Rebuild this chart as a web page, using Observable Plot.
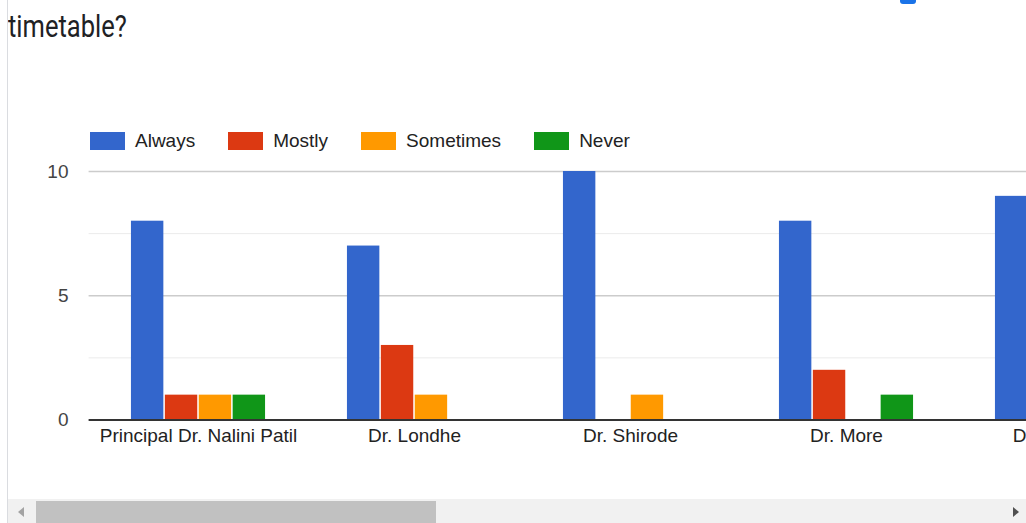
<!DOCTYPE html>
<html>
<head>
<meta charset="utf-8">
<script src="https://cdn.jsdelivr.net/npm/d3@7"></script>
<script src="https://cdn.jsdelivr.net/npm/@observablehq/plot@0.6"></script>
<style>
  html, body { margin: 0; padding: 0; background: #fff; width: 1026px; height: 523px; overflow: hidden; }
  #page { position: relative; width: 1026px; height: 523px; overflow: hidden; }
  #chart { position: absolute; left: 0; top: 0; width: 1026px; height: 498px; overflow: hidden; }
  #chart svg { max-width: none !important; background: transparent !important; }
  #chart svg [aria-label^="x-axis"] { color: #222; }
  #chart svg [aria-label^="y-axis"] { color: #444; }
  #border { position: absolute; left: 7px; top: 0; width: 1px; height: 523px; background: #dadce0; }
  #title { position: absolute; left: 8px; top: 7px; font-family: Roboto, Arial, sans-serif; font-size: 25.5px; line-height: 32px; color: #202124; white-space: nowrap; transform: scaleY(1.2); transform-origin: 0 0; }
  #icon { position: absolute; left: 900px; top: -12px; width: 16px; height: 16px; background: #1a73e8; border-radius: 3px; }
  #legend { position: absolute; left: 90px; top: 130px; display: flex; align-items: center; font-family: Arial, "Liberation Sans", sans-serif; font-size: 19px; color: #222; }
  .item { display: flex; align-items: center; margin-right: 33px; }
  .sw { width: 35px; height: 18px; margin-right: 10px; }
  #track { position: absolute; left: 8px; top: 499px; width: 1018px; height: 24px; background: #f1f1f1; }
  #thumb { position: absolute; left: 36px; top: 501px; width: 400px; height: 22px; background: #c1c1c1; }
  .arrow { position: absolute; width: 0; height: 0; border-top: 5px solid transparent; border-bottom: 5px solid transparent; }
  #aleft { left: 18px; top: 507px; border-right: 6px solid #a3a3a3; }
  #aright { left: 1013px; top: 507px; border-left: 6px solid #505050; }
</style>
</head>
<body>
<div id="page">
  <div id="chart"></div>
  <div id="border"></div>
  <div id="icon"></div>
  <div id="title">timetable?</div>
  <div id="legend"></div>
  <div id="track"></div>
  <div id="thumb"></div>
  <div class="arrow" id="aleft"></div>
  <div class="arrow" id="aright"></div>
</div>
<script>
// ---- data ----
const teachers = ["Principal Dr. Nalini Patil", "Dr. Londhe", "Dr. Shirode", "Dr. More", "Dr. (hidden)"];
const responses = ["Always", "Mostly", "Sometimes", "Never"];
const always    = [8, 7, 10, 8, 9];
const mostly    = [1, 3, 0, 2, null];
const sometimes = [1, 1, 1, 0, null];
const never     = [1, 0, 0, 1, null];
const colors = ["#3366cc", "#dc3912", "#ff9900", "#109618"];
const yTickValues = [0, 5, 10];
const yMajorGrid = [5, 10];
const yMinorGrid = [2.5, 7.5];

const series = [always, mostly, sometimes, never];
const rows = [];
teachers.forEach((t, ti) => {
  responses.forEach((r, ri) => {
    const v = series[ri][ti];
    if (v != null && v > 0) rows.push({teacher: t, response: r, value: v});
  });
});

// ---- layout ----
const marginLeft = 88.6;
const step = 216.6;
const width = 1250;
const marginRight = width - marginLeft - step * teachers.length;
const barStep = 33.9;
const barWidth = 33;
const inset = (step - barWidth) / 2;

const chart = Plot.plot({
  width,
  height: 498,
  marginLeft,
  marginRight,
  marginTop: 171,
  marginBottom: 78.5,
  style: {fontFamily: "Arial, 'Liberation Sans', sans-serif", fontSize: "19px", background: "transparent", maxWidth: "none", overflow: "visible"},
  x: {domain: teachers, padding: 0, tickSize: 0, tickPadding: 8, label: null},
  y: {domain: [0, 10], ticks: yTickValues, tickSize: 0, tickPadding: 20.6, label: null},
  marks: [
    Plot.ruleY(yMinorGrid, {stroke: "#ebebeb", strokeWidth: 1}),
    Plot.ruleY(yMajorGrid, {stroke: "#cccccc", strokeWidth: 1.5}),
    ...responses.map((r, i) => Plot.barY(rows.filter(d => d.response === r), {
      x: "teacher", y: "value", fill: colors[i],
      dx: (i - 1.5) * barStep, insetLeft: inset, insetRight: inset
    })),
    Plot.ruleY([0], {stroke: "#333333", strokeWidth: 2})
  ]
});
document.getElementById("chart").appendChild(chart);

// ---- legend ----
const legend = document.getElementById("legend");
responses.forEach((r, i) => {
  const item = document.createElement("div");
  item.className = "item";
  const sw = document.createElement("div");
  sw.className = "sw";
  sw.style.background = colors[i];
  const label = document.createElement("span");
  label.textContent = r;
  item.appendChild(sw);
  item.appendChild(label);
  legend.appendChild(item);
});
</script>
</body>
</html>
